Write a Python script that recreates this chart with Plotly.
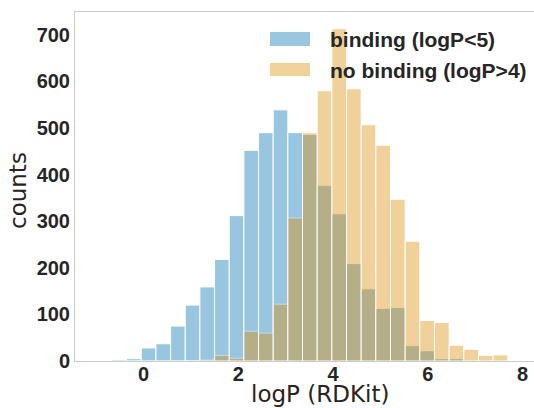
import plotly.graph_objects as go

# ---- data ----
BIN_START = -0.667          # left edge of the first histogram bin (logP)
BIN_WIDTH = 0.3095          # width of each bin (logP)
series_names = ["binding (logP<5)", "no binding (logP>4)"]
binding_counts = [3, 5, 28, 37, 75, 120, 159, 218, 312, 452, 490, 539, 490, 486,
                  377, 316, 209, 155, 113, 115, 33, 22, 5, 5, 0, 0, 0]
no_binding_counts = [0, 0, 0, 0, 1, 1, 2, 12, 6, 64, 60, 122, 307, 490,
                     580, 713, 584, 507, 463, 347, 257, 87, 83, 34, 25, 12, 13]
x_ticks = [0, 2, 4, 6, 8]
y_ticks = [0, 100, 200, 300, 400, 500, 600, 700]
x_title = "logP (RDKit)"
y_title = "counts"
colors = ["#0173b2", "#de8f05"]

centers = [BIN_START + BIN_WIDTH * (i + 0.5) for i in range(len(binding_counts))]

fig = go.Figure()
for name, counts, col in zip(series_names, [binding_counts, no_binding_counts], colors):
    fig.add_trace(go.Bar(
        x=centers, y=counts, width=BIN_WIDTH, name=name,
        marker=dict(color=col, line=dict(color="white", width=1)),
        opacity=0.4, showlegend=False,
    ))

W, H = 534, 408
L, R, T, B = 75, 0, 12, 47
pw, ph = W - L - R, H - T - B

def px(xp):
    return (xp - L) / pw

def py(yp):
    return (H - B - yp) / ph

# custom legend (matplotlib-style wide patches)
patch_y = [(32, 46), (63, 76)]
text_y = [40, 70]
for i, (name, col) in enumerate(zip(series_names, colors)):
    fig.add_shape(type="rect", xref="paper", yref="paper",
                  x0=px(270), x1=px(310), y0=py(patch_y[i][1]), y1=py(patch_y[i][0]),
                  fillcolor=col, opacity=0.4, line=dict(width=0), layer="above")
    fig.add_annotation(xref="paper", yref="paper", x=px(328), y=py(text_y[i]),
                       text="<b>" + name + "</b>", showarrow=False,
                       xanchor="left", yanchor="middle",
                       font=dict(family="Liberation Sans, Arial", size=21, color="#262626"))

title_font = dict(family="DejaVu Sans", size=23, color="#2a2420")
fig.add_annotation(xref="paper", yref="paper", x=px(320), y=py(393.5),
                   text=x_title, showarrow=False, xanchor="center", yanchor="middle",
                   font=title_font)
fig.add_annotation(xref="paper", yref="paper", x=px(18), y=py(191),
                   text=y_title, showarrow=False, xanchor="center", yanchor="middle",
                   textangle=-90, font=title_font)

fig.update_layout(
    width=W, height=H,
    margin=dict(l=L, r=R, t=T, b=B),
    barmode="overlay",
    plot_bgcolor="white", paper_bgcolor="white",
    xaxis=dict(
        range=[-1.447, 8.243], tickvals=x_ticks,
        ticktext=["<b>%d</b>" % v for v in x_ticks],
        showgrid=False, zeroline=False, showline=True, mirror=True,
        linecolor="#cccccc", linewidth=1, ticks="", ticklabelstandoff=-5,
        tickfont=dict(family="Liberation Sans, Arial", size=20, color="#262626"),
    ),
    yaxis=dict(
        range=[0, 749], tickvals=y_ticks,
        ticktext=["<b>%d</b>" % v for v in y_ticks],
        showgrid=False, zeroline=False, showline=True, mirror=True,
        linecolor="#cccccc", linewidth=1, ticks="",
        tickfont=dict(family="Liberation Sans, Arial", size=20, color="#262626"),
    ),
)

fig.write_html("out.html")
